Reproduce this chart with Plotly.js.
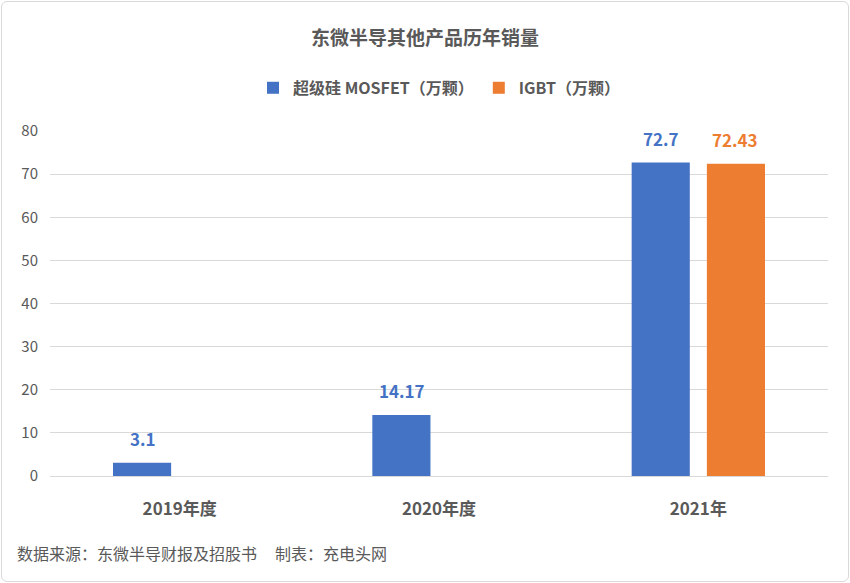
<!DOCTYPE html>
<html><head><meta charset="utf-8">
<script src="https://cdn.plot.ly/plotly-3.0.1.min.js"></script>
<style>html,body{margin:0;padding:0;background:#fff}#c{width:850px;height:583px}
#f{position:absolute;left:1px;top:1px;width:846px;height:579px;border:1px solid #d9d9d9;border-radius:6px;pointer-events:none}</style>
</head><body><div id="c"></div><div id="f"></div>
<script>
const categories = ['2019年度', '2020年度', '2021年'];
const mosfet = [3.1, 14.17, 72.7];
const igbt = [null, null, 72.43];
const yTicks = [0, 10, 20, 30, 40, 50, 60, 70, 80];
const font = 'Noto Sans CJK SC, Microsoft YaHei, sans-serif';
const blue = '#4472c4', orange = '#ed7d31';
const traces = [
  {type:'bar', name:'<b>超级硅 MOSFET（万颗）</b>', x:categories, y:mosfet, marker:{color:blue}, hoverinfo:'none'},
  {type:'bar', name:'<b>IGBT（万颗）</b>', x:categories, y:igbt, marker:{color:orange}, hoverinfo:'none'}
];
const labels = [];
[[mosfet, blue, -37], [igbt, orange, 37]].forEach(([arr, col, xs]) => {
  arr.forEach((v, i) => { if (v != null) labels.push({x:categories[i], y:v, xref:'x', yref:'y', text:'<b>'+v+'</b>', showarrow:false,
    xshift:xs, yshift:24, font:{size:17, color:col, family:font}}); });
});
labels.push({text:'数据来源：东微半导财报及招股书&nbsp;&nbsp;&nbsp;&nbsp;&nbsp;制表：充电头网', xref:'paper', yref:'paper', x:-0.045, xanchor:'left', y:-0.223, yanchor:'middle', showarrow:false, font:{size:16, color:'#595959'}});
const layout = {
  width:850, height:583, margin:{l:50, r:22, t:131, b:107},
  paper_bgcolor:'#fff', plot_bgcolor:'#fff',
  font:{family:font, color:'#595959'},
  title:{text:'<b>东微半导其他产品历年销量</b>', x:0.5, xanchor:'center', y:0.935, yanchor:'middle', font:{size:19, color:'#595959', family:font}},
  showlegend:true,
  legend:{orientation:'h', x:0.5, xanchor:'center', y:1.125, yanchor:'middle', font:{size:16, color:'#595959'}, traceorder:'normal'},
  barmode:'group', bargap:0.42, bargroupgap:0.227,
  xaxis:{showline:true, linecolor:'#d9d9d9', tickfont:{size:17, color:'#595959'}, ticks:'outside', ticklen:18, tickcolor:'rgba(0,0,0,0)', tickprefix:'<b>', ticksuffix:'</b>'},
  yaxis:{range:[0,80], tickvals:yTicks, showgrid:true, gridcolor:'#d9d9d9', zeroline:false, showline:false, tickfont:{size:15, color:'#595959'}, ticklen:8, ticks:'outside', tickcolor:'rgba(0,0,0,0)'},
  annotations:labels
};
Plotly.newPlot('c', traces, layout, {displayModeBar:false});
</script></body></html>
